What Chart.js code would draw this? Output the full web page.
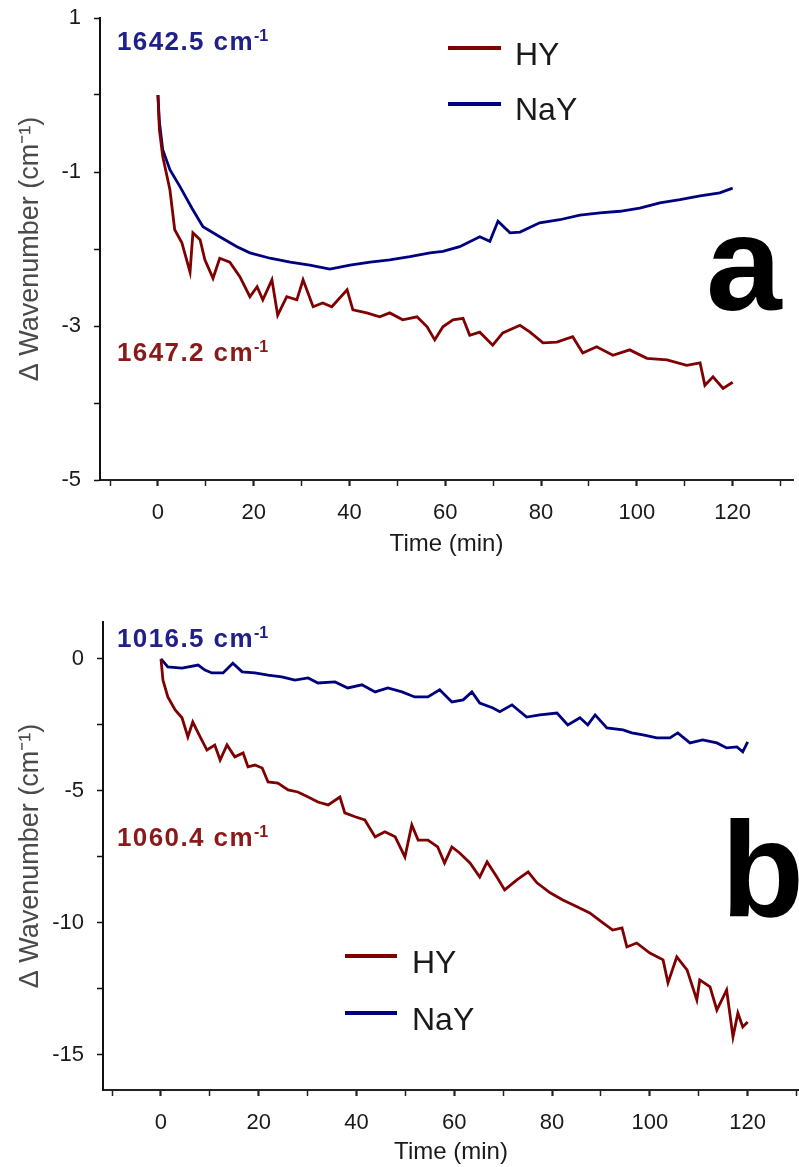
<!DOCTYPE html>
<html>
<head>
<meta charset="utf-8">
<script src="https://cdn.jsdelivr.net/npm/chart.js@4.4.1/dist/chart.umd.min.js"></script>
<style>
    body { margin: 0; background: #fff; }
    #wrap { position: relative; width: 799px; height: 1167px; overflow: hidden; font-family: 'Liberation Sans', Arial, sans-serif; }
    canvas { position: absolute; left: 0; }
    .note, .leg-text, .big { position: absolute; line-height: 1; white-space: nowrap; }
    .note { font-size: 26px; font-weight: bold; letter-spacing: 1.4px; }
    .note sup { font-size: 0.62em; vertical-align: 0.55em; line-height: 0; letter-spacing: 0; }
    .leg-text { font-size: 32px; color: #1a1a1a; }
    .leg-line { position: absolute; height: 4px; }
    .big { font-weight: bold; color: #000; }
</style>
</head>
<body>
<div id="wrap">
    <canvas id="chartA" width="799" height="580" style="top:0"></canvas>
    <canvas id="chartB" width="799" height="587" style="top:580px"></canvas>

    <!-- panel a -->
    <div class="note" style="left:117px;top:28px;color:#20208a">1642.5 cm<sup>-1</sup></div>
    <div class="note" style="left:117px;top:339px;color:#8a1a1a">1647.2 cm<sup>-1</sup></div>
    <div class="leg-line" style="left:448px;top:46px;width:53px;background:#7f0000"></div>
    <div class="leg-line" style="left:448px;top:102px;width:53px;background:#00007f"></div>
    <div class="leg-text" style="left:515px;top:38px">HY</div>
    <div class="leg-text" style="left:515px;top:93px">NaY</div>
    <div class="big" style="left:706px;top:195px;font-size:136px">a</div>

    <!-- panel b -->
    <div class="note" style="left:117px;top:625px;color:#20208a">1016.5 cm<sup>-1</sup></div>
    <div class="note" style="left:117px;top:824px;color:#8a1a1a">1060.4 cm<sup>-1</sup></div>
    <div class="leg-line" style="left:345px;top:954px;width:52px;background:#7f0000"></div>
    <div class="leg-line" style="left:345px;top:1011px;width:52px;background:#00007f"></div>
    <div class="leg-text" style="left:412px;top:946px">HY</div>
    <div class="leg-text" style="left:412px;top:1003px">NaY</div>
    <div class="big" style="left:721px;top:801px;font-size:136px">b</div>
</div>

<script>
// panel a: 1642.5 / 1647.2 cm-1 bands
const timeA_NaY = [0, 0.3, 1, 2.5, 4.6, 7.1, 9.4, 12.9, 16.5, 19.2, 23.4, 27.6, 31.7, 35.9, 40.1, 44.3, 48.4, 52.6, 56.8, 59.5, 63, 67.2, 69.3, 71, 73.5, 75.6, 79.7, 83.9, 88.1, 92.3, 96.5, 100.6, 104.8, 109, 113.2, 117.3, 120];
const shiftA_NaY = [0, -0.35, -0.71, -0.97, -1.19, -1.47, -1.71, -1.84, -1.97, -2.05, -2.12, -2.17, -2.21, -2.26, -2.21, -2.17, -2.14, -2.10, -2.05, -2.03, -1.97, -1.84, -1.9, -1.64, -1.79, -1.78, -1.66, -1.62, -1.56, -1.53, -1.51, -1.47, -1.40, -1.36, -1.31, -1.27, -1.21];

const timeA_HY = [0, 0.3, 1, 2.5, 3.5, 5, 6.7, 7.3, 8.8, 9.8, 11.5, 12.9, 15, 17.1, 19.2, 20.7, 21.9, 23.8, 25, 26.9, 29, 30.3, 32.4, 34.4, 36.3, 39.5, 40.7, 43.6, 46.3, 48.4, 51.1, 54.1, 56.2, 57.8, 59.5, 61.6, 63.7, 65.1, 67.2, 69.9, 72, 75.6, 77.7, 80.4, 83.3, 86.6, 88.7, 91.6, 95, 98.5, 102.1, 106.3, 110.4, 113.2, 114.2, 115.9, 118, 120];
const shiftA_HY = [0, -0.45, -0.8, -1.23, -1.75, -1.92, -2.3, -1.79, -1.88, -2.14, -2.38, -2.12, -2.17, -2.36, -2.62, -2.49, -2.66, -2.40, -2.86, -2.62, -2.66, -2.40, -2.75, -2.70, -2.75, -2.53, -2.79, -2.83, -2.88, -2.83, -2.92, -2.88, -3.01, -3.18, -3.01, -2.92, -2.90, -3.12, -3.08, -3.25, -3.09, -2.99, -3.08, -3.22, -3.21, -3.14, -3.35, -3.27, -3.38, -3.31, -3.42, -3.44, -3.51, -3.48, -3.77, -3.66, -3.81, -3.73];

// panel b: 1016.5 / 1060.4 cm-1 bands
const timeB_NaY = [0, 1.4, 4.3, 7.6, 9, 10.4, 12.7, 14.7, 16.6, 19.2, 21.9, 24.7, 27.4, 30.1, 32.1, 35.6, 38.2, 41.1, 43.8, 46.4, 49.3, 51.9, 54.6, 57, 59.5, 61.8, 63.6, 65.2, 67.9, 69.3, 71.8, 74.8, 77.5, 81, 83.2, 85.7, 87.3, 88.8, 91.2, 94.5, 96.3, 98.6, 101.4, 104.1, 105.7, 108.2, 110.8, 113.7, 115.7, 117.8, 119, 120];
const shiftB_NaY = [0, -0.3, -0.35, -0.23, -0.42, -0.53, -0.53, -0.16, -0.49, -0.53, -0.61, -0.68, -0.80, -0.72, -0.91, -0.87, -1.10, -0.98, -1.25, -1.10, -1.25, -1.44, -1.44, -1.17, -1.63, -1.55, -1.25, -1.67, -1.86, -2.0, -1.74, -2.2, -2.12, -2.05, -2.5, -2.23, -2.5, -2.12, -2.61, -2.69, -2.80, -2.88, -2.99, -2.99, -2.80, -3.18, -3.07, -3.18, -3.37, -3.33, -3.52, -3.14];

const timeB_HY = [0, 0.4, 1.4, 2.9, 4.3, 5.5, 6.5, 7.6, 9.4, 11, 12.1, 13.5, 15.1, 16.8, 17.8, 19.2, 20.7, 21.9, 23.9, 26, 28, 30.1, 32.1, 34.2, 36.6, 37.6, 39.7, 41.7, 43.8, 45.8, 47.9, 49.9, 51.3, 52.6, 54.6, 56.6, 58, 59.5, 61.1, 63.2, 65.2, 66.7, 68.7, 70.3, 72.8, 75.1, 76.9, 79.6, 82.2, 85.1, 87.7, 90.4, 92.4, 94.3, 95.3, 97.3, 100, 102.7, 103.7, 105.5, 107.6, 109.6, 110.2, 112.3, 113.7, 115.7, 117, 118, 119, 120];
const shiftB_HY = [0, -0.8, -1.44, -1.93, -2.23, -2.95, -2.39, -2.80, -3.45, -3.26, -3.83, -3.26, -3.71, -3.56, -4.09, -4.02, -4.13, -4.66, -4.70, -4.96, -5.04, -5.23, -5.42, -5.53, -5.23, -5.83, -5.98, -6.10, -6.74, -6.55, -6.74, -7.5, -6.29, -6.86, -6.86, -7.12, -7.73, -7.12, -7.35, -7.73, -8.26, -7.69, -8.26, -8.75, -8.37, -8.07, -8.48, -8.86, -9.13, -9.39, -9.62, -10.0, -10.27, -10.19, -10.91, -10.76, -11.14, -11.4, -12.27, -11.29, -11.78, -12.92, -12.16, -12.42, -13.30, -12.54, -14.32, -13.41, -13.94, -13.75];

const seriesNames = ["HY", "NaY"];
const seriesColors = ["#7f0000", "#00007f"];
const xTickLabels = [0, 20, 40, 60, 80, 100, 120];

Chart.defaults.font.family = "'Liberation Sans', Arial, sans-serif";
Chart.defaults.color = "#1a1a1a";

function toPoints(times, values) {
    return times.map((t, i) => ({ x: t, y: values[i] }));
}

function lineSet(label, color, times, values) {
    return {
        label: label,
        data: toPoints(times, values),
        borderColor: color,
        backgroundColor: color,
        borderWidth: 2.8,
        pointRadius: 0,
        tension: 0,
        fill: false
    };
}

function xAxis(min, max, height, titleGap) {
    return {
        type: "linear",
        min: min,
        max: max,
        border: { color: "#222", width: 2 },
        grid: {
            drawOnChartArea: false,
            tickLength: 6,
            tickColor: "#222",
            tickWidth: ctx => (ctx.tick && ctx.tick.value % 20 === 0) ? 2.2 : 1.5
        },
        ticks: {
            stepSize: 10,
            includeBounds: false,
            autoSkip: false,
            maxRotation: 0,
            padding: 14,
            font: { size: 22 },
            color: "#1a1a1a",
            callback: v => xTickLabels.includes(v) ? String(v) : ""
        },
        title: {
            display: true,
            text: "Time (min)",
            font: { size: 24 },
            color: "#1a1a1a",
            padding: { top: 0, bottom: titleGap }
        },
        afterFit: s => {
            s.height = height;
            s.paddingLeft = 0;
            s.paddingRight = 0;
        }
    };
}

function yAxis(min, max, step, showLabel, width) {
    return {
        min: min,
        max: max,
        border: { color: "#111", width: 2 },
        grid: { drawOnChartArea: false, tickLength: 6, tickColor: "#111", tickWidth: 1.5 },
        ticks: {
            stepSize: step,
            includeBounds: false,
            autoSkip: false,
            padding: 13,
            font: { size: 22 },
            color: "#1a1a1a",
            callback: v => showLabel(v) ? String(v) : ""
        },
        title: {
            display: true,
            text: "\u0394 Wavenumber (cm\u207B\u00B9)",
            font: { size: 27 },
            color: "#4a4a4a",
            padding: { top: 14 }
        },
        afterFit: s => {
            s.width = width;
            s.paddingTop = 0;
            s.paddingBottom = 0;
        }
    };
}

function renderPanel(canvasId, datasets, xScale, yScale, padding) {
    const ctx = document.getElementById(canvasId).getContext("2d");
    return new Chart(ctx, {
        type: "line",
        data: { datasets: datasets },
        options: {
            responsive: false,
            animation: false,
            layout: { padding: padding },
            plugins: { legend: { display: false }, tooltip: { enabled: false } },
            scales: { x: xScale, y: yScale }
        }
    });
}

renderPanel("chartA",
    [
        lineSet(seriesNames[0], seriesColors[0], timeA_HY, shiftA_HY),
        lineSet(seriesNames[1], seriesColors[1], timeA_NaY, shiftA_NaY)
    ],
    xAxis(-12.1, 132.6, 100, 21),
    yAxis(-5, 1, 1, v => v % 2 !== 0, 100),
    { top: 18, right: 6, left: 0, bottom: 0 }
);

renderPanel("chartB",
    [
        lineSet(seriesNames[0], seriesColors[0], timeB_HY, shiftB_HY),
        lineSet(seriesNames[1], seriesColors[1], timeB_NaY, shiftB_NaY)
    ],
    xAxis(-11.86, 130.5, 77, 0),
    yAxis(-16.33, 1.4, 2.5, v => v % 5 === 0, 103),
    { top: 42, right: 0, left: 0, bottom: 0 }
);
</script>
</body>
</html>
